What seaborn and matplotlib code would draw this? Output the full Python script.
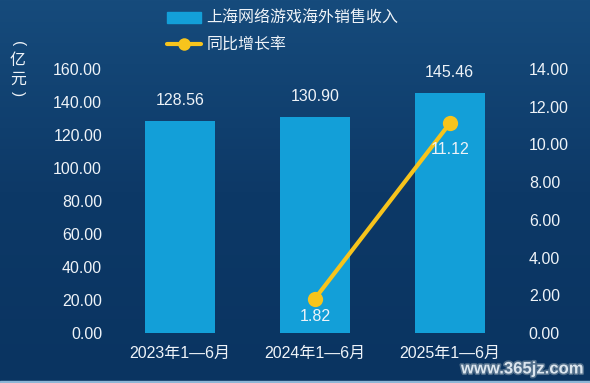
import matplotlib
matplotlib.use("Agg")
import matplotlib.pyplot as plt
import matplotlib.patheffects as pe
from matplotlib.colors import LinearSegmentedColormap
from matplotlib.lines import Line2D
from matplotlib.patches import Patch, Rectangle
import numpy as np
import pandas as pd
import seaborn as sns

# data
periods = ["2023年1—6月", "2024年1—6月", "2025年1—6月"]
revenue = [128.56, 130.90, 145.46]
growth_periods = ["2024年1—6月", "2025年1—6月"]
growth = [1.82, 11.12]

bar_label = "上海网络游戏海外销售收入"
line_label = "同比增长率"
unit_chars = ["(", "亿", "元", ")"]
left_ticks = np.arange(0, 161, 20)
right_ticks = np.arange(0, 15, 2)
watermark = "www.365jz.com"

sns.set_theme(style="white")
plt.rcParams["font.family"] = ["Liberation Sans", "Noto Sans CJK SC"]

text_color = "#eef3f8"
bar_color = "#139fd8"
line_color = "#f7c41c"
fs = 11.5

fig = plt.figure(figsize=(5.9, 3.83), dpi=100)

# gradient background
bg = fig.add_axes([0, 0, 1, 1], zorder=-10)
grad = np.linspace(0, 1, 256).reshape(-1, 1)
cmap = LinearSegmentedColormap.from_list("bg", ["#164b7c", "#0d3967", "#0a3461"])
bg.imshow(grad, aspect="auto", cmap=cmap, extent=[0, 1, 0, 1], origin="upper")
bg.axis("off")
fig.patches.append(Rectangle((0, 0), 1, 0.006, transform=fig.transFigure,
                             color="#8db6d6", zorder=-5))

ax = fig.add_axes([0.1907, 0.1305, 0.686, 0.6893])
ax.patch.set_alpha(0)

df = pd.DataFrame({"period": periods, "revenue": revenue})
sns.barplot(data=df, x="period", y="revenue", order=periods, color=bar_color,
            width=0.52, saturation=1, linewidth=0, edgecolor="none", ax=ax)

for i, v in enumerate(revenue):
    ax.annotate(f"{v:.2f}", (i, v), xytext=(0, 14.5), textcoords="offset points",
                ha="center", va="center", fontsize=fs, color=text_color)

ax2 = ax.twinx()
gdf = pd.DataFrame({"pos": [periods.index(p) for p in growth_periods], "growth": growth})
sns.lineplot(data=gdf, x="pos", y="growth", color=line_color, lw=3, marker="o",
             markersize=11, markeredgewidth=0, ax=ax2)

offsets = [12.5, 19]
for (p, g), off in zip(zip(gdf["pos"], growth), offsets):
    ax2.annotate(f"{g:.2f}", (p, g), xytext=(0.5, -off), textcoords="offset points",
                 ha="center", va="center", fontsize=fs, color=text_color)

ax.set_ylim(0, 160)
ax2.set_ylim(0, 14)
ax.set_yticks(left_ticks, [f"{t:.2f}" for t in left_ticks])
ax2.set_yticks(right_ticks, [f"{t:.2f}" for t in right_ticks])
ax.set_xlim(-0.5, 2.5)

for a in (ax, ax2):
    a.set_xlabel("")
    a.set_ylabel("")
    a.grid(False)
    for s in a.spines.values():
        s.set_visible(False)
ax.tick_params(axis="y", length=0, labelsize=fs, labelcolor=text_color, pad=7.5)
ax.tick_params(axis="x", length=0, labelsize=fs, labelcolor=text_color, pad=9)
ax2.tick_params(axis="y", length=0, labelsize=fs, labelcolor=text_color, pad=8.3)

handles = [Patch(color=bar_color, label=bar_label),
           Line2D([], [], color=line_color, lw=3, marker="o", markersize=9,
                  markeredgewidth=0, label=line_label)]
leg = fig.legend(handles=handles, loc="upper left", bbox_to_anchor=(167 / 590, 1 - 11 / 383),
                 frameon=False, fontsize=fs, handlelength=2.1, handletextpad=0.35,
                 labelspacing=0.7, borderpad=0, borderaxespad=0, numpoints=1)
for t in leg.get_texts():
    t.set_color(text_color)

# vertical unit label: brackets turned sideways, characters upright
unit_y = [44, 61, 79, 94]
unit_rot = [-90, 0, 0, -90]
unit_fs = [11, fs, fs, 11]
for ch, yy, rot, f in zip(unit_chars, unit_y, unit_rot, unit_fs):
    fig.text(18 / 590, 1 - yy / 383, ch, ha="center", va="center", rotation=rot,
             fontsize=f, color=text_color)

fig.text(583 / 590, 1 - 369 / 383, watermark, ha="right", va="center",
         fontsize=12, fontweight="bold", color="#dbe5ee",
         path_effects=[pe.withStroke(linewidth=2.2, foreground="#4f6d8a")])

fig.savefig("out.png", dpi=100)
